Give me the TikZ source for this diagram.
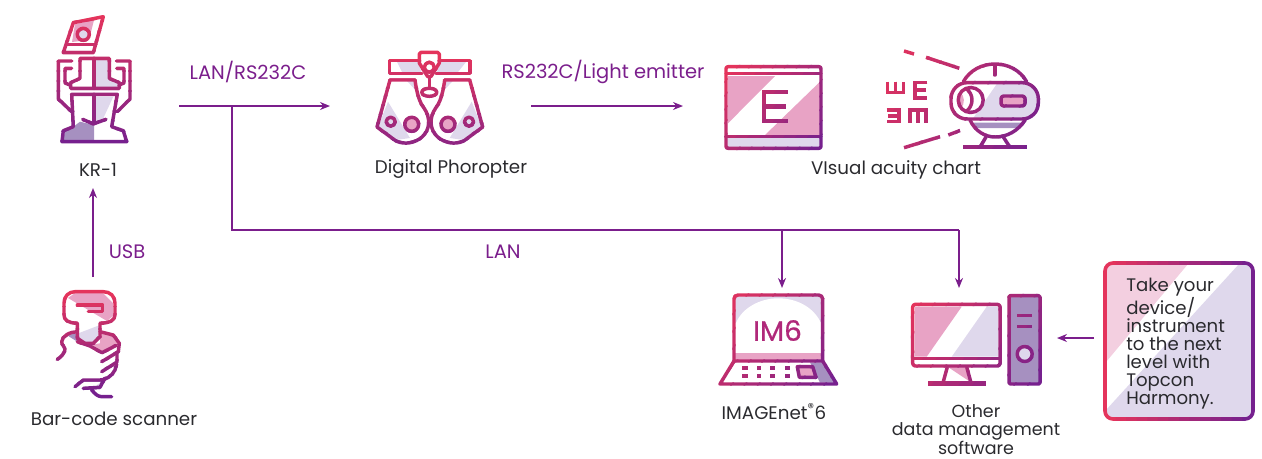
\documentclass[tikz,border=0pt]{standalone}
\usepackage{fontspec}
\setmainfont{Poppins}
\newfontfamily\imfont[FakeBold=0.7]{Poppins}
\usetikzlibrary{arrows.meta}

\definecolor{gradstart}{HTML}{E4345C}
\definecolor{gradend}{HTML}{76208E}
\definecolor{midcol}{HTML}{B0287A}
\definecolor{linkcol}{HTML}{7B1E8C}
\definecolor{inkcol}{HTML}{2A2A2E}
\definecolor{softpink}{HTML}{E8A3C5}
\definecolor{palepink}{HTML}{F3CFE0}
\definecolor{softlav}{HTML}{DFD8EC}
\definecolor{darklav}{HTML}{A690C0}
\colorlet{iconline}{gradstart}

% one icon outline, cut in bands along (x0,y0)-(x1,y1)
\newcommand{\gradicon}[5]{%
  \pgfmathsetmacro\dx{#4-#2}
  \pgfmathsetmacro\dy{#5-#3}
  \foreach \t in {0,...,13} {
    \pgfmathsetmacro\pct{100*\t/13}
    \pgfmathsetmacro\sa{\t/14-(\t==0)*2}
    \pgfmathsetmacro\sb{(\t+1)/14+0.008+(\t==13)*2}
    \colorlet{iconline}{gradend!\pct!gradstart}
    \begin{scope}
      \clip ({#2+\sa*\dx-3*\dy},{#3+\sa*\dy+3*\dx}) -- ({#2+\sb*\dx-3*\dy},{#3+\sb*\dy+3*\dx})
         -- ({#2+\sb*\dx+3*\dy},{#3+\sb*\dy-3*\dx}) -- ({#2+\sa*\dx+3*\dy},{#3+\sa*\dy-3*\dx}) -- cycle;
      \pic {#1};
    \end{scope}
  }
}

\tikzset{
  iconpen/.style={draw=iconline, line width=2.6pt, line join=round, line cap=round},
  pics/kricon/.style={code={
    % Card
    \draw[iconpen] (73.3,22.7) -- (103.3,16.7) -- (93.3,52.7) -- (63.3,52.7) -- cycle;
    \draw[iconpen] (66.5,44.3) -- (96,44.3);
    \draw[iconpen] (83.3,34.3) circle (6);
    % Column
    \draw[iconpen] (80,58.3) -- (109.3,58.3) -- (109.3,78.3) -- (119.3,82.7) -- (119.3,88.3)
      -- (70.7,88.3) -- (70.7,82.7) -- (80,78.3) -- cycle;
    \draw[iconpen] (94,58.3) -- (94,88.3) (94,94.3) -- (94,121);
    % Lower body
    \draw[iconpen] (71.7,94.3) -- (117.3,94.3) -- (111.7,126.7) -- (123.3,130.7) -- (126.7,141.7)
      -- (62,141.7) -- (63.3,130.7) -- (73.3,126.7) -- cycle;
    \draw[iconpen] (82.7,119.3) -- (93.3,124) -- (106,119.3);
    % Side arms
    \draw[iconpen] (71.7,61) -- (58.3,61) -- (58.3,99) -- (71.7,111.7);
    \draw[iconpen] (116.7,61) -- (130,61) -- (130,99) -- (117.3,111.7);
    \draw[iconpen] (71.7,68.3) -- (65,68.3) -- (65,83) -- (70,85);
    \draw[iconpen] (116.7,68.3) -- (124,68.3) -- (124,83) -- (119,85);
  }},
  pics/scanicon/.style={code={
    % Head
    \draw[iconpen] (64,303) .. controls (64,296) and (69,291.7) .. (75,291.7) -- (103.3,291.7)
      .. controls (110,291.7) and (115,296) .. (115,303) -- (115,315) .. controls (115,320) and (110,323) .. (100,323.3)
      -- (100,336.7) -- (93.3,343.3) -- (85,343.3) -- (77.3,338.3) -- (77.3,323.3)
      .. controls (68,323) and (64,320) .. (64,315) -- cycle;
    \draw[iconpen] (77.3,305) -- (102.7,305) -- (102.7,311.7) -- (88.3,311.7);
    % Hand
    \draw[iconpen] (77.3,331.7) .. controls (70,331.7) and (62,336) .. (61.7,341.7) .. controls (61.7,346) and (65,346) .. (65,349)
      .. controls (65,353) and (61,357) .. (57.3,359.3);
    \draw[iconpen] (100,331.7) -- (113.3,335) -- (119.3,343.3) -- (118.3,351.7) -- (101.7,361.7);
    \draw[iconpen] (77.3,341.7) -- (90,346) -- (102,352.7) -- (116,345.5);
    \draw[iconpen] (117,352) -- (117,362) -- (101.7,371.7);
    \draw[iconpen] (116.7,364) -- (115,370) .. controls (112,376) and (106,380) .. (100,380) -- (83.3,380) -- (75,386.7);
    \draw[iconpen] (83.3,388.3) -- (100,387.3) -- (105,378);
    \draw[iconpen] (91.7,390) .. controls (95,394) and (98,396.7) .. (102,396.7) -- (111.7,396.7);
  }},
  pics/phoricon/.style={code={
    % Bar and cup
    \draw[iconpen] (419.3,60.7) -- (389.3,60.7) -- (389.3,73.3) -- (422,73.3);
    \draw[iconpen] (439.3,60.7) -- (470,60.7) -- (470,73.3) -- (436,73.3);
    \draw[iconpen] (421,52.3) -- (437.5,52.3) -- (439.3,54) -- (439.3,63) -- (431,76.5) -- (427.6,76.5) -- (419.3,63) -- (419.3,54) -- cycle;
    \draw[iconpen] (429.3,67.3) circle (5);
    \draw[iconpen] (429.3,77) -- (429.3,88);
    \draw[iconpen] (429.3,92.3) ellipse (7.5 and 4);
    % Lens sides
    \foreach \s/\o in {1/0,-1/859.7} {
      \begin{scope}[shift={(\o,0)}, xscale=\s]
        \draw[iconpen] (390,80) -- (415,80) .. controls (417,95) and (420,103) .. (424,108)
          .. controls (431,118) and (430,130) .. (422,137) .. controls (415,143) and (405,145) .. (396,141)
          -- (377,127) -- cycle;
        \draw[iconpen] (390.7,121.7) circle (4.5);
        \draw[iconpen] (411.7,124.3) circle (7);
      \end{scope}
    }
  }},
  pics/charticon/.style={code={
    \draw[iconpen, rounded corners=1.5pt] (726,66.7) rectangle (821,148.3);
    \draw[iconpen] (726,73.6) -- (821,73.6);
    \draw[iconpen] (726,136.7) -- (821,136.7);
    % Letter
    \draw[iconpen, line width=3.4pt, line cap=butt, line join=miter] (787.7,92) -- (764,92) -- (764,121) -- (787.7,121)
      (764,106.5) -- (786,106.5);
  }},
  pics/projicon/.style={code={
    % Beam
    \draw[iconpen, line cap=butt] (904,51) -- (914,54) (926,57.3) -- (959.3,68.3);
    \draw[iconpen, line cap=butt] (904,147.7) -- (940,136.7) (948.3,135) -- (960,130.5);
    % Letters
    \begin{scope}[line width=2.4pt, draw=iconline, line cap=butt, line join=miter]
      \draw (887.7,81.7) -- (887.7,92.5) -- (903.3,92.5) -- (903.3,81.7) (895.5,81.7) -- (895.5,92.5);
      \draw (927.3,82.3) -- (915,82.3) -- (915,98) -- (927.3,98) (915,90) -- (926,90);
      \draw (886.7,110) -- (899,110) -- (899,121.5) -- (886.7,121.5) (899,116) -- (888,116);
      \draw (910,122.7) -- (910,110) -- (926,110) -- (926,122.7) (918,110) -- (918,122.7);
    \end{scope}
    % Dome, capsule and foot
    \draw[iconpen] (963.3,81.7) .. controls (970,70) and (982,64) .. (995,64) .. controls (1008,64) and (1020,70) .. (1026.7,81.7);
    \draw[iconpen] (995,65) -- (995,75);
    \draw[iconpen, rounded corners=12pt] (951,82.7) rectangle (1038.3,119);
    \draw[iconpen] (970,120) .. controls (975,131) and (985,137) .. (995,137) .. controls (1007,137) and (1018,131) .. (1025,120);
    \draw[iconpen] (986,137) -- (980,147.3) (1003.3,137) -- (1010,147.3);
    \draw[iconpen, line width=3pt, line cap=butt] (963.3,147.3) -- (1026.7,147.3);
    % Lens and slot
    \draw[iconpen] (970.7,100) circle (12.5);
    \draw[iconpen] (966,88.5) .. controls (974,94) and (974,106) .. (966,111.5);
    \draw[iconpen, rounded corners=2pt] (1001,96) rectangle (1025,106);
  }},
  pics/laptopicon/.style={code={
    \draw[iconpen, rounded corners=3pt] (734,361) -- (734,295) -- (822.7,295) -- (822.7,361);
    \draw[iconpen] (734,361) -- (720,384) -- (836.7,384) -- (822.7,361) -- cycle;
    \draw[iconpen] (797.3,366.7) -- (812.7,366.7) -- (816,377.3) -- (799.3,377.3) -- cycle;
    % Keys
    \foreach \x/\w in {745/5.5,759/4.5,772.7/5.5,787.3/4.5} {
      \foreach \y in {367.7,376} {
        \fill[iconline] (\x-\w/2,\y-2.2) rectangle (\x+\w/2,\y+2.2);
      }
    }
  }},
  pics/pcicon/.style={code={
    \draw[iconpen, rounded corners=2pt] (912.7,304.3) rectangle (1000,366);
    \draw[iconpen] (912.7,358.3) -- (1000,358.3);
    \draw[iconpen, line cap=butt] (947.3,367) -- (943.3,381.7) (966.7,367) -- (970.7,381.7);
    \draw[iconpen, line width=3.4pt, line cap=butt] (928.3,383.3) -- (986,383.3);
    % Tower
    \draw[iconpen, rounded corners=1pt] (1009,295.7) rectangle (1040,384);
    \draw[iconpen, line cap=butt] (1017.3,315.7) -- (1031.7,315.7) (1017.3,326.3) -- (1031.7,326.3);
    \draw[iconpen] (1024.7,354) circle (7.5);
  }},
  pics/noticeicon/.style={code={
    \draw[iconpen, line width=2.7pt, rounded corners=6pt] (1105,263) rectangle (1253,419);
  }}
}

\begin{document}
\begin{tikzpicture}[
    x=0.75pt,
    y=-0.75pt,
    caption/.style={text=inkcol, font=\fontsize{13.7}{14}\selectfont, align=center, inner sep=0pt},
    linklabel/.style={text=linkcol, font=\fontsize{14.6}{15}\selectfont, inner sep=0pt},
    link/.style={draw=linkcol, line width=1.1pt, -{Stealth[length=7.5pt, width=6pt]}},
    linkbar/.style={draw=linkcol, line width=1.1pt}]

  \useasboundingbox (0,0) rectangle (1262,458);

  % Fills under the outlines
  \fill[softpink] (75,24) -- (94,20) -- (89,40) -- (72,42) -- cycle;
  \fill[softlav] (83.3,34.3) circle (6);
  \fill[softlav] (94,58) -- (109,58) -- (109,78) -- (119,83) -- (119,88) -- (94,88) -- cycle;
  \fill[softlav] (94,96.7) -- (113.3,96.7) -- (101.7,121.7) -- (94,123.3) -- cycle;
  \fill[darklav] (63.3,140) -- (65,130.7) -- (73.3,126.7) -- (80,121.7) -- (94,125) -- (94,140) -- cycle;

  \fill[softpink] (68,298) -- (75,293) -- (103,293) -- (113,303) -- (113,316) -- (107,321) -- cycle;
  \fill[softlav] (78.3,333.3) -- (100,325) -- (100,336.7) -- (93.3,342.7) -- (85,342.7) -- (78.3,338.3) -- cycle;
  \fill[softpink] (90,345) -- (100,343.3) -- (100,333.3) -- (113.3,336) -- (118.3,345) -- (101.7,352.7) -- cycle;
  \fill[darklav] (66.7,335) -- (77.3,333.3) -- (77.3,341.7) -- cycle;
  \fill[softlav] (101,382) -- (93,388) -- (102,387) -- cycle;

  \fill[softlav] (397,62) -- (419,62) -- (421,72) -- (402,72) -- cycle;
  \fill[softlav] (440,62) -- (466,62) -- (458,72) -- (437,72) -- cycle;
  \foreach \s/\o in {1/0,-1/859.7} {
    \begin{scope}[shift={(\o,0)}, xscale=\s]
      \fill[softlav] (388,101.7) -- (410,138) -- (396,140) -- (378,127) -- cycle;
      \fill[softlav] (407,81) -- (420,95) -- (415,81) -- cycle;
      \fill[softpink] (411.7,124.3) circle (7);
    \end{scope}
  }

  \fill[softpink] (728,76) -- (775,76) -- (728,123.3) -- cycle;
  \fill[softpink] (820,81.7) -- (765,135) -- (820,135) -- cycle;
  \fill[softlav] (727,137) rectangle (820,147);

  \fill[softlav] (996.7,84) -- (973.3,118) -- (1027,118) -- (1037,107) -- (1037,93) -- (1027,84) -- cycle;
  \fill[darklav] (970,122.5) -- (1023,122.5) -- (1016,128) -- (977,128) -- cycle;
  \fill[softpink] (960,92) .. controls (958,98) and (958,103) .. (961,108) .. controls (965,104) and (965,96) .. (960,92) -- cycle;
  \fill[softpink] (1001,96) rectangle (1025,106);

  \fill[softlav] (735,296) rectangle (822,323);
  \fill[white] (736,323) .. controls (742,308) and (760,298.3) .. (778,298.3) .. controls (798,298.3) and (814,308) .. (821,323) -- (821,354) -- (736,354) -- cycle;
  \fill[softpink] (735,353.3) rectangle (821.7,360.5);
  \fill[darklav] (810,362.3) -- (822.7,362.3) -- (835,382.7) -- (820,382.7) -- cycle;
  \fill[softpink] (797.3,366.7) -- (812.7,366.7) -- (816,377.3) -- (799.3,377.3) -- cycle;

  \fill[softpink] (915,306.7) -- (961.7,306.7) -- (926.7,356.7) -- (915,356.7) -- cycle;
  \fill[softlav] (986.7,306.7) -- (998,306.7) -- (998,356.7) -- (951.7,356.7) -- cycle;
  \fill[softpink] (948,367) -- (966.7,367) -- (970,381.7) -- cycle;
  \fill[darklav] (1009,295.7) rectangle (1040,384);
  \fill[softlav] (1024.7,354) circle (7.5);

  \fill[palepink] (1106,264) -- (1188,264) -- (1106,362) -- cycle;
  \fill[softlav] (1239,264) -- (1252,264) -- (1252,418) -- (1106,418) -- (1106,410) -- cycle;

  % Outlines
  \gradicon{kricon}{94}{10}{94}{150}
  \gradicon{scanicon}{90}{291}{90}{397}
  \gradicon{phoricon}{430}{52}{430}{175}
  \gradicon{charticon}{726}{66}{821}{149}
  \gradicon{projicon}{886}{50}{1039}{148}
  \gradicon{laptopicon}{720}{295}{837}{385}
  \gradicon{pcicon}{912}{295}{1041}{385}
  \gradicon{noticeicon}{1105}{340}{1253}{340}

  % Text inside the icons
  \node (laptopname) [text=midcol, font=\imfont\fontsize{21}{21}\selectfont] at (777.5,330.5) {IM6};

  % Captions
  \node (krname) [caption] at (98,169.5) {KR-1};
  \node (scanname) [caption] at (114,419) {Bar-code scanner};
  \node (phorname) [caption] at (451,169.5) {Digital Phoropter};
  \node (chartname) [caption] at (896,169.5) {VIsual acuity chart};
  \node (imname) [caption] at (774,412) {IMAGEnet\textsuperscript{®}6};
  \node (pcname) [caption, font=\fontsize{13.1}{13.7}\selectfont, anchor=north] at (976,404.5) {Other\\data management\\software};
  \node (notice) [text=inkcol, font=\fontsize{13.6}{13.6}\selectfont, align=left, anchor=north west, inner sep=0pt]
    at (1126,277.5) {Take your\\device/\\instrument\\to the next\\level with\\Topcon\\Harmony.};

  % Link labels
  \node (lanrs) [linklabel] at (248,72) {LAN/RS232C};
  \node (rslight) [linklabel] at (603,72) {RS232C/Light emitter};
  \node (usb) [linklabel] at (127,252) {USB};
  \node (lan) [linklabel] at (503,252) {LAN};

  % Link ends
  \coordinate (lanstart) at (179,106);
  \coordinate (lanend) at (330,106);
  \coordinate (lanfork) at (232,106);
  \coordinate (lancorner) at (232,230);
  \coordinate (imfork) at (782,230);
  \coordinate (imend) at (782,288);
  \coordinate (pcfork) at (959,230);
  \coordinate (pcend) at (959,288);
  \coordinate (rsstart) at (531,106);
  \coordinate (rsend) at (683,106);
  \coordinate (usbstart) at (93,277);
  \coordinate (usbend) at (93,188);
  \coordinate (noticestart) at (1094,338);
  \coordinate (noticeend) at (1057,338);

  % Links
  \draw[link] (lanstart) -- (lanend);
  \draw[linkbar] (lanfork) -- (lancorner) -- (pcfork);
  \draw[link] (imfork) -- (imend);
  \draw[link] (pcfork) -- (pcend);
  \draw[link] (rsstart) -- (rsend);
  \draw[link] (usbstart) -- (usbend);
  \draw[link] (noticestart) -- (noticeend);
\end{tikzpicture}
\end{document}
